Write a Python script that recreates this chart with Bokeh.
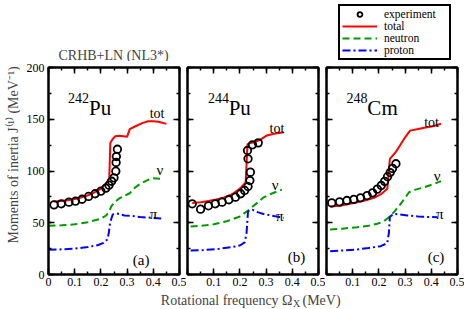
from math import pi
from bokeh.plotting import figure
from bokeh.models import (LinearAxis, SingleIntervalTicker, Range1d, Label, Legend, LegendItem,
                          CustomJSTickFormatter)
from bokeh.layouts import row, column
from bokeh.embed import file_html
from bokeh.resources import INLINE

FONT = "Liberation Serif"

# ---------------- data ----------------
# 242Pu
exp_x_242 = [0.021, 0.049, 0.078, 0.103, 0.128, 0.153, 0.178, 0.200, 0.219, 0.231, 0.241, 0.250, 0.257, 0.258, 0.259, 0.263]
exp_y_242 = [67.3, 68.3, 69.9, 70.8, 72.7, 75.4, 78.0, 80.5, 83.4, 86.3, 90.1, 93.4, 99.8, 108.2, 114.0, 121.0]
tot_x_242 = [0.02, 0.05, 0.08, 0.11, 0.14, 0.17, 0.20, 0.22, 0.232, 0.236, 0.245, 0.255, 0.27, 0.285, 0.30, 0.31, 0.33, 0.36, 0.38, 0.40, 0.42, 0.45]
tot_y_242 = [70.5, 71, 72, 73.5, 75.5, 78.5, 83, 88, 93, 127, 131, 133.5, 134, 133.5, 133, 140.5, 143, 146.5, 148, 148, 147.5, 145.5]
nu_x_242 = [0.0, 0.05, 0.1, 0.15, 0.2, 0.22, 0.232, 0.24, 0.255, 0.27, 0.29, 0.31, 0.33, 0.35, 0.38, 0.40, 0.43]
nu_y_242 = [47, 47.5, 48.5, 50.5, 54, 57, 61, 66, 70.5, 73.5, 76, 78.5, 84, 87.5, 91.5, 93, 92.5]
pi_x_242 = [0.0, 0.05, 0.1, 0.15, 0.19, 0.21, 0.225, 0.23, 0.235, 0.245, 0.26, 0.29, 0.32, 0.35, 0.38, 0.43]
pi_y_242 = [24, 24.3, 25, 26.5, 28.5, 30.5, 34, 40, 50, 58, 59, 57, 56.5, 55.5, 55, 54]

# 244Pu
exp_x_244 = [0.018, 0.05, 0.08, 0.106, 0.132, 0.158, 0.183, 0.203, 0.218, 0.231, 0.238, 0.24, 0.231, 0.229, 0.248, 0.27]
exp_y_244 = [68.3, 63.1, 66.4, 68.3, 69.9, 72.2, 74.7, 78.0, 81.2, 85.0, 90.8, 98.9, 111.8, 119.8, 125.3, 127.2]
tot_x_244 = [0.018, 0.05, 0.08, 0.11, 0.14, 0.17, 0.20, 0.222, 0.229, 0.24, 0.257, 0.28, 0.30, 0.33, 0.367]
tot_y_244 = [69, 69.8, 71, 72.5, 74.5, 77.5, 83, 89, 126, 127, 128, 130.5, 134, 136, 137.5]
nu_x_244 = [0.012, 0.05, 0.1, 0.15, 0.2, 0.231, 0.26, 0.29, 0.32, 0.36]
nu_y_244 = [46.4, 47, 48.5, 51.5, 56, 61.8, 68, 74.5, 78, 82]
pi_x_244 = [0.012, 0.06, 0.12, 0.17, 0.2, 0.218, 0.225, 0.231, 0.248, 0.27, 0.29, 0.33, 0.367]
pi_y_244 = [23.2, 23.6, 24.8, 26.5, 28, 31, 39, 61, 62.5, 60, 58.5, 56.5, 54.8]

# 248Cm
exp_x_248 = [0.02, 0.05, 0.078, 0.104, 0.13, 0.155, 0.176, 0.194, 0.209, 0.222, 0.233, 0.243, 0.252, 0.265]
exp_y_248 = [69.2, 70.2, 71.5, 72.5, 74.1, 76.3, 78.9, 82.5, 86.0, 90.0, 94.5, 98.5, 102.5, 107.0]
tot_x_248 = [0.014, 0.05, 0.08, 0.117, 0.15, 0.181, 0.21, 0.232, 0.242, 0.264, 0.296, 0.319, 0.35, 0.373, 0.41, 0.437]
tot_y_248 = [65.7, 66.5, 67.8, 69.9, 71.8, 74.1, 78, 82.8, 111.8, 118.2, 131, 139, 140.5, 141.7, 143.5, 145.6]
nu_x_248 = [0.014, 0.06, 0.117, 0.16, 0.194, 0.22, 0.238, 0.26, 0.283, 0.30, 0.315, 0.34, 0.373, 0.41, 0.437]
nu_y_248 = [43.5, 44.3, 45.7, 47, 49, 51.5, 55.4, 61, 68.3, 74, 79.5, 82, 84.3, 87.5, 90.2]
pi_x_248 = [0.014, 0.06, 0.117, 0.16, 0.207, 0.232, 0.238, 0.242, 0.258, 0.28, 0.309, 0.35, 0.39, 0.424]
pi_y_248 = [22.5, 23.2, 24.2, 25.5, 27.4, 30.3, 40, 56, 58.6, 58, 57, 56, 55.5, 55.4]

nuclei_mass = ["242", "244", "248"]
nuclei_elem = ["Pu", "Pu", "Cm"]
panel_tags = ["(a)", "(b)", "(c)"]
legend_labels = ["experiment", "total", "neutron", "proton"]
x_ticks_interval = 0.1
y_ticks_interval = 50

RED = "#ff0000"
GREEN = "#009a00"
BLUE = "#0000ff"

FRAME_W = 131
FRAME_H = 207
TOP_H = 61
BOTTOM_H = 17
LEFT_W = 20
P_TOP = 6
P_BOTTOM = 17
ROW_H = P_TOP + FRAME_H + P_BOTTOM
FIG1_W = 28 + FRAME_W + 7
FIGN_W = 1 + FRAME_W + 7
PANELS_W = FIG1_W + 2 * FIGN_W
TOTAL_H = TOP_H + ROW_H + BOTTOM_H

BLANK = CustomJSTickFormatter(code="return ''")


def style_axis(ax, show_labels):
    ax.axis_line_width = 2
    ax.axis_line_color = "black"
    ax.major_tick_in = 6
    ax.major_tick_out = 0
    ax.minor_tick_in = 3
    ax.minor_tick_out = 0
    ax.major_tick_line_width = 1.5
    ax.minor_tick_line_width = 1.5
    ax.major_tick_line_color = "black"
    ax.minor_tick_line_color = "black"
    ax.major_label_text_font = FONT
    ax.major_label_text_font_size = "12px"
    ax.major_label_text_color = "black"
    if show_labels:
        ax.major_label_standoff = 4
    else:
        ax.formatter = BLANK
        ax.major_label_standoff = 0


def make_panel(left_border, first, data, lab):
    p = figure(frame_width=FRAME_W, frame_height=FRAME_H,
               min_border_left=left_border, min_border_right=7,
               min_border_top=P_TOP, min_border_bottom=P_BOTTOM,
               x_range=Range1d(0, 0.5), y_range=Range1d(0, 200),
               x_axis_type=None, y_axis_type=None,
               output_backend="svg", toolbar_location=None)
    p.outline_line_color = "black"
    p.outline_line_width = 2
    p.background_fill_color = "white"
    p.border_fill_color = "white"

    xt = SingleIntervalTicker(interval=x_ticks_interval, num_minor_ticks=2)
    yt = SingleIntervalTicker(interval=y_ticks_interval, num_minor_ticks=2)

    bx = LinearAxis(ticker=xt)
    style_axis(bx, True)
    bx.major_label_standoff = 3
    if not first:
        bx.major_label_overrides = {0: ""}
    p.add_layout(bx, "below")
    tx = LinearAxis(ticker=xt)
    style_axis(tx, False)
    p.add_layout(tx, "above")
    ly = LinearAxis(ticker=yt)
    style_axis(ly, first)
    p.add_layout(ly, "left")
    ry = LinearAxis(ticker=yt)
    style_axis(ry, False)
    p.add_layout(ry, "right")

    ex, ey, tx_, ty_, nx, ny, px_, py_ = data
    p.line(tx_, ty_, line_color=RED, line_width=2)
    p.line(nx, ny, line_color=GREEN, line_width=2, line_dash="7 4")
    p.line(px_, py_, line_color=BLUE, line_width=2, line_dash="8 3 2 3")
    p.scatter(ex, ey, marker="circle", size=7.5, fill_color=None,
              line_color="black", line_width=1.8)

    def lbl(x, y, text, size):
        p.add_layout(Label(x=x, y=y, text=text, text_font=FONT, text_font_size=size,
                           text_color="black", text_baseline="alphabetic",
                           text_align="left"))

    mass, elem, tag, mx, ex_, tot_pos, nu_pos, pi_pos, tag_pos = lab
    lbl(mx, 171, mass, "14px")
    lbl(ex_, 161, elem, "21px")
    lbl(tot_pos[0], tot_pos[1], "tot", "14px")
    lbl(nu_pos[0], nu_pos[1], "ν", "15px")
    lbl(pi_pos[0], pi_pos[1], "π", "15px")
    lbl(tag_pos[0], tag_pos[1], tag, "15px")
    return p


p1 = make_panel(28, True,
                (exp_x_242, exp_y_242, tot_x_242, tot_y_242, nu_x_242, nu_y_242, pi_x_242, pi_y_242),
                (nuclei_mass[0], nuclei_elem[0], panel_tags[0], 0.074, 0.155,
                 (0.386, 155.5), (0.412, 100.5), (0.386, 58.6), (0.322, 14)))
p2 = make_panel(1, False,
                (exp_x_244, exp_y_244, tot_x_244, tot_y_244, nu_x_244, nu_y_244, pi_x_244, pi_y_244),
                (nuclei_mass[1], nuclei_elem[1], panel_tags[1], 0.078, 0.157,
                 (0.313, 140.7), (0.322, 86), (0.338, 57), (0.383, 17)))
p3 = make_panel(1, False,
                (exp_x_248, exp_y_248, tot_x_248, tot_y_248, nu_x_248, nu_y_248, pi_x_248, pi_y_248),
                (nuclei_mass[2], nuclei_elem[2], panel_tags[2], 0.076, 0.156,
                 (0.373, 147), (0.409, 94.7), (0.418, 58.6), (0.386, 17)))


def strip(w, h):
    s = figure(width=w, height=h, x_range=Range1d(0, w), y_range=Range1d(0, h),
               min_border=0, x_axis_type=None, y_axis_type=None,
               output_backend="svg", toolbar_location=None)
    s.outline_line_color = None
    s.background_fill_color = "white"
    s.border_fill_color = "white"
    return s


# top strip: title and legend (legend renderers carry the 248Cm series on an
# off-screen range so that the legend has real glyphs to sample)
top = strip(PANELS_W, TOP_H)
top.extra_x_ranges = {"off": Range1d(10, 11)}
top.extra_y_ranges = {"off": Range1d(1000, 1001)}
top.add_layout(Label(x=58 - LEFT_W, y=6, text="CRHB+LN (NL3*)", text_font=FONT,
                     text_font_size="14px", text_baseline="alphabetic", text_align="left"))
off = dict(x_range_name="off", y_range_name="off")
lr_exp = top.scatter(exp_x_248, exp_y_248, marker="circle", size=7, fill_color=None,
                     line_color="black", line_width=1.8, **off)
lr_tot = top.line(tot_x_248, tot_y_248, line_color=RED, line_width=2, **off)
lr_nu = top.line(nu_x_248, nu_y_248, line_color=GREEN, line_width=2, line_dash="7 4", **off)
lr_pi = top.line(pi_x_248, pi_y_248, line_color=BLUE, line_width=2, line_dash="8 3 2 3", **off)
legend = Legend(items=[LegendItem(label=legend_labels[0], renderers=[lr_exp]),
                       LegendItem(label=legend_labels[1], renderers=[lr_tot]),
                       LegendItem(label=legend_labels[2], renderers=[lr_nu]),
                       LegendItem(label=legend_labels[3], renderers=[lr_pi])],
                location=(338 - LEFT_W, 1.5), orientation="vertical",
                label_text_font=FONT, label_text_font_size="11.5px",
                label_text_color="black",
                label_height=12, label_width=63, glyph_height=12, glyph_width=35,
                label_standoff=7, spacing=0, padding=2, margin=0,
                border_line_color="black", border_line_width=2, border_line_alpha=1.0,
                background_fill_color="white", background_fill_alpha=1.0)
top.add_layout(legend)

# left strip: y-axis title
left = strip(LEFT_W, TOTAL_H)
left.add_layout(Label(x=13, y=TOTAL_H - 243, text="Moments of inertia J⁽¹⁾ (MeV⁻¹)",
                      text_font=FONT, text_font_size="14px", text_baseline="middle",
                      text_align="left", angle=pi / 2))

# bottom strip: x-axis title
bottom = strip(PANELS_W, BOTTOM_H)
bottom.add_layout(Label(x=292 - LEFT_W, y=8, text="Rotational frequency Ω", text_font=FONT,
                        text_font_size="14px", text_baseline="alphabetic", text_align="right"))
bottom.add_layout(Label(x=292.5 - LEFT_W, y=5, text="X", text_font=FONT,
                        text_font_size="10px", text_baseline="alphabetic", text_align="left"))
bottom.add_layout(Label(x=302 - LEFT_W, y=8, text="(MeV)", text_font=FONT,
                        text_font_size="14px", text_baseline="alphabetic", text_align="left"))

layout = row(left, column(top, row(p1, p2, p3, spacing=0), bottom, spacing=0), spacing=0)

with open("out.html", "w") as f:
    f.write(file_html(layout, INLINE))
